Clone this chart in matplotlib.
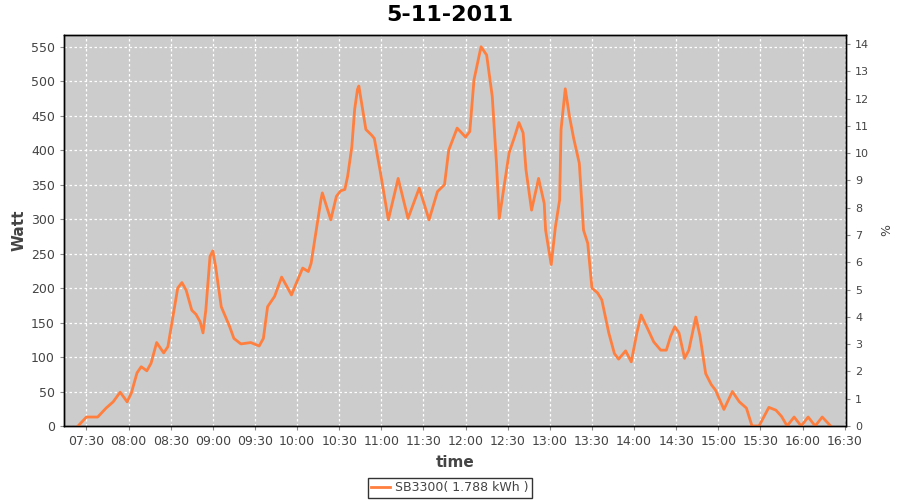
import matplotlib
matplotlib.use("Agg")
import matplotlib.pyplot as plt

plt.rcParams.update({
    "font.family": ["DejaVu Sans"],
    "font.size": 9,
})

TITLE = "5-11-2011"
SERIES_LABEL = "SB3300( 1.788 kWh )"

# sample times (HH:MM) and power in Watt
times = [
    "07:24", "07:30", "07:38", "07:44", "07:49", "07:54", "07:59", "08:02",
    "08:06", "08:09", "08:13", "08:16", "08:20", "08:25", "08:28", "08:32",
    "08:35", "08:38", "08:41", "08:45", "08:48", "08:51", "08:53", "08:55",
    "08:58", "09:00", "09:02", "09:06", "09:12", "09:15", "09:20", "09:27",
    "09:33", "09:36", "09:39", "09:44", "09:49", "09:52", "09:56", "09:59",
    "10:04", "10:08", "10:10", "10:14", "10:17", "10:18", "10:24", "10:28",
    "10:31", "10:34", "10:36", "10:39", "10:41", "10:43", "10:44", "10:49",
    "10:53", "10:55", "10:59", "11:05", "11:12", "11:19", "11:27", "11:34",
    "11:40", "11:45", "11:48", "11:54", "12:00", "12:03", "12:06", "12:11",
    "12:15", "12:19", "12:22", "12:24", "12:27", "12:31", "12:35", "12:38",
    "12:41", "12:43", "12:47", "12:52", "12:56", "12:57", "13:01", "13:04",
    "13:07", "13:08", "13:11", "13:14", "13:17", "13:21", "13:24", "13:27",
    "13:30", "13:34", "13:37", "13:42", "13:46", "13:49", "13:54", "13:58",
    "14:02", "14:05", "14:09", "14:14", "14:19", "14:23", "14:26", "14:29",
    "14:32", "14:36", "14:39", "14:44", "14:47", "14:51", "14:55", "14:58",
    "15:04", "15:10", "15:15", "15:20", "15:24", "15:29", "15:36", "15:41",
    "15:45", "15:49", "15:54", "15:59", "16:04", "16:09", "16:14", "16:20",
]
watts = [
    0, 13, 13, 26, 35, 49, 35, 48,
    77, 86, 80, 91, 121, 106, 115, 164,
    200, 208, 197, 168, 162, 151, 135, 168,
    246, 254, 231, 173, 144, 127, 119, 121,
    116, 127, 173, 188, 216, 205, 190, 205,
    229, 224, 236, 289, 328, 338, 299, 333,
    341, 343, 362, 405, 459, 488, 493, 430,
    422, 417, 372, 299, 359, 301, 345, 299,
    340, 350, 400, 432, 419, 427, 502, 550,
    538, 478, 381, 301, 342, 396, 420, 440,
    425, 372, 313, 359, 323, 284, 234, 289,
    328, 430, 489, 449, 417, 381, 284, 265,
    200, 193, 183, 135, 105, 97, 109, 93,
    135, 161, 144, 122, 110, 110, 130, 144,
    135, 98, 110, 158, 130, 76, 60, 52,
    24, 50, 35, 26, 0, 0, 27, 23,
    14, 0, 13, 0, 13, 0, 13, 0,
]

x_ticks = ["07:30", "08:00", "08:30", "09:00", "09:30", "10:00", "10:30",
           "11:00", "11:30", "12:00", "12:30", "13:00", "13:30", "14:00",
           "14:30", "15:00", "15:30", "16:00", "16:30"]
watt_ticks = [0, 50, 100, 150, 200, 250, 300, 350, 400, 450, 500, 550]
pct_ticks = list(range(0, 15))


def to_hours(s):
    h, m = s.split(":")
    return int(h) + int(m) / 60.0


xs = [to_hours(t) for t in times]

fig = plt.figure(figsize=(9, 5), dpi=100)
ax = fig.add_axes([0.0711, 0.148, 0.869, 0.782])
ax.set_facecolor("#cccccc")

ax.plot(xs, watts, color="#ff7f3f", linewidth=2.0, label=SERIES_LABEL,
        zorder=3, solid_joinstyle="round")

ax.set_xlim(to_hours("07:14"), to_hours("16:31"))
ax.set_ylim(0, 567)
ax.set_xticks([to_hours(t) for t in x_ticks])
ax.set_xticklabels(x_ticks)
ax.set_yticks(watt_ticks)

ax.grid(True, color="white", linestyle=(0, (2, 2)), linewidth=0.9, zorder=1)
ax.set_axisbelow(True)

for sp in ax.spines.values():
    sp.set_color("black")
    sp.set_linewidth(1.0)

ax.tick_params(axis="both", colors="#888888", labelcolor="#444444",
               length=3, width=0.8, labelsize=9)

ax.set_xlabel("time", fontsize=11, fontweight="bold", color="#444444",
              labelpad=5)
ax.set_ylabel("Watt", fontsize=11, fontweight="bold", color="#444444",
              labelpad=3)

ax2 = ax.twinx()
ax2.set_ylim(0, 14.33)
ax2.set_yticks(pct_ticks)
ax2.tick_params(axis="y", colors="#888888", labelcolor="#444444",
                length=3, width=0.8, labelsize=8)
ax2.set_ylabel("%", fontsize=9, color="#444444", labelpad=8)
for sp in ax2.spines.values():
    sp.set_color("black")
    sp.set_linewidth(1.0)

fig.suptitle(TITLE, x=0.5, y=0.99, fontsize=16, fontweight="heavy",
             color="black")

leg = fig.legend(*ax.get_legend_handles_labels(), loc="center",
                 bbox_to_anchor=(0.5, 0.024), frameon=True, fancybox=False,
                 fontsize=9, handlelength=1.5, handletextpad=0.4,
                 borderpad=0.3)
leg.get_frame().set_edgecolor("black")
leg.get_frame().set_linewidth(1.0)
for t in leg.get_texts():
    t.set_color("#444444")

fig.savefig("out.png", dpi=100)
